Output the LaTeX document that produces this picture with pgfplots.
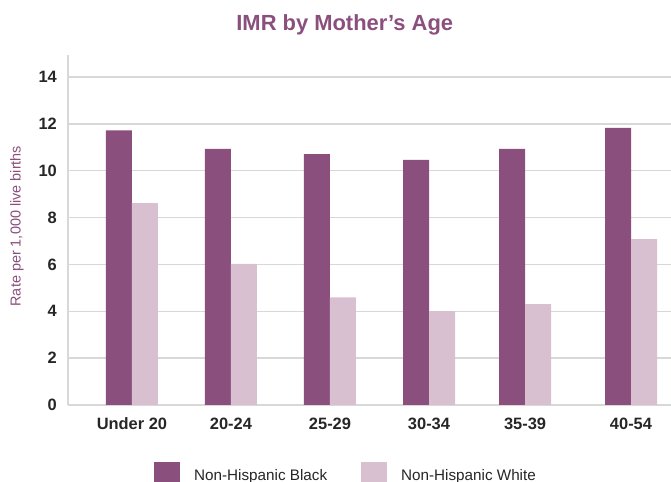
\documentclass[border=0pt]{standalone}
\usepackage{pgfplots}
\pgfplotsset{compat=1.18}
\usepackage{fontspec}
\setmainfont{Liberation Sans}
\definecolor{nhblack}{HTML}{8A4F7D}
\definecolor{nhwhite}{HTML}{D9C0D0}
\definecolor{titlepurple}{HTML}{8A4F7D}
\definecolor{gridgray}{HTML}{D8D8D8}
\begin{document}
\begin{tikzpicture}
\begin{axis}[
    at={(68bp,77bp)}, anchor=south west,
    scale only axis, width=603bp, height=350bp,
    ybar=0pt, bar width=26bp,
    xmin=-0.646, xmax=5.444, ymin=0, ymax=14.94,
    xtick={0,1,2,3,3.97,5.04},
    xticklabels={Under 20,20-24,25-29,30-34,35-39,40-54},
    ytick={0,2,...,14},
    major tick length=0pt,
    axis lines=left,
    axis line style={draw=gridgray, line width=1.3bp, -},
    ymajorgrids, grid style={draw=gridgray, line width=1.3bp},
    /pgf/number format/assume math mode=true,
    ticklabel style={font=\fontsize{16.5}{16.5}\selectfont\bfseries, text=black!85},
    yticklabel style={inner sep=0pt, xshift=-11bp},
    xticklabel style={inner sep=0pt, text height=12bp, yshift=-12bp},
    title={IMR by Mother's Age},
    title style={at={(axis description cs:0.459,1.054)}, anchor=base,
        font=\fontsize{22}{22}\selectfont\bfseries, text=titlepurple},
    ylabel={Rate per 1,000 live births},
    ylabel style={at={(axis description cs:-0.0846,0.511)}, anchor=center,
        font=\fontsize{14.5}{14.5}\selectfont, text=titlepurple},
    legend columns=2,
    legend image code/.code={\fill[#1] (0bp,-13bp) rectangle (26bp,13bp);},
    legend style={at={(axis description cs:0.1426,-0.163)}, anchor=north west,
        draw=none, inner sep=0pt,
        nodes={inner sep=0pt, font=\fontsize{15.3}{15.3}\selectfont, text=black!85},
        /tikz/every odd column/.append style={column sep=14bp},
        /tikz/every even column/.append style={column sep=34bp}},
]
\addplot[fill=nhblack, draw=none] coordinates {
    (0,11.72) (1,10.93) (2,10.71) (3,10.46) (3.97,10.93) (5.04,11.83)
};
\addplot[fill=nhwhite, draw=none] coordinates {
    (0,8.62) (1,6.02) (2,4.59) (3,4.01) (3.97,4.31) (5.04,7.08)
};
\legend{Non-Hispanic Black, Non-Hispanic White}
\end{axis}
\pgfresetboundingbox
\useasboundingbox (0,0) rectangle (671bp,482bp);
\end{tikzpicture}
\end{document}
